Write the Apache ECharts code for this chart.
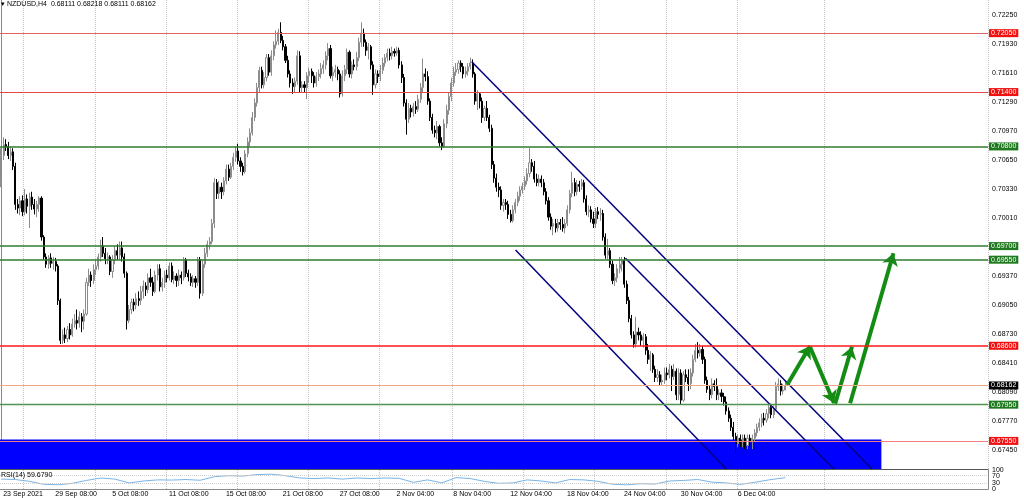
<!DOCTYPE html>
<html><head><meta charset="utf-8">
<script src="https://cdn.jsdelivr.net/npm/echarts@6/dist/echarts.min.js"></script>
<style>html,body{margin:0;padding:0;background:#fff}#c{width:1024px;height:498px}</style>
</head><body><div id="c"></div><script>
const symbolName = 'NZDUSD,H4';
const opens = [
.7040,.7070,.7082,.7080,.7070,.7074,.7058,.7016,.7012,.7020,
.7008,.7022,.7014,.7024,.7016,.7011,.7016,.7023,.6980,.6958,
.6950,.6957,.6951,.6953,.6948,.6910,.6866,.6872,.6868,.6878,
.6872,.6884,.6888,.6885,.6892,.6887,.6895,.6930,.6938,.6932,
.6944,.6948,.6958,.6970,.6962,.6956,.6958,.6942,.6955,.6965,
.6960,.6968,.6958,.6940,.6888,.6900,.6908,.6905,.6912,.6910,
.6920,.6926,.6922,.6935,.6930,.6920,.6938,.6945,.6925,.6930,
.6938,.6935,.6948,.6933,.6937,.6932,.6938,.6935,.6955,.6940,
.6936,.6930,.6934,.6930,.6955,.6918,.6950,.6962,.6972,.6975,
.6995,.7040,.7028,.7035,.7030,.7042,.7055,.7046,.7058,.7068,
.7075,.7064,.7058,.7052,.7072,.7085,.7095,.7112,.7128,.7145,
.7164,.7148,.7156,.7178,.7162,.7180,.7192,.7196,.7206,.7197,
.7190,.7175,.7160,.7150,.7146,.7152,.7180,.7145,.7148,.7145,
.7158,.7163,.7158,.7150,.7157,.7160,.7166,.7170,.7180,.7188,
.7158,.7162,.7165,.7160,.7138,.7158,.7165,.7184,.7160,.7170,
.7168,.7178,.7195,.7205,.7195,.7186,.7190,.7170,.7148,.7160,
.7157,.7164,.7172,.7178,.7183,.7180,.7185,.7183,.7186,.7170,
.7156,.7128,.7110,.7122,.7118,.7124,.7121,.7132,.7145,.7160,
.7157,.7130,.7112,.7098,.7095,.7102,.7084,.7080,.7105,.7120,
.7135,.7150,.7162,.7165,.7172,.7168,.7160,.7163,.7168,.7172,
.7160,.7130,.7138,.7130,.7112,.7122,.7112,.7100,.7060,.7045,
.7035,.7032,.7015,.7018,.7016,.7005,.6998,.7010,.7018,.7025,
.7032,.7036,.7042,.7050,.7062,.7058,.7044,.7040,.7044,.7040,
.7030,.7020,.7002,.6992,.6995,.6990,.6996,.6994,.6990,.6995,
.7010,.7028,.7040,.7030,.7038,.7036,.7040,.7022,.7008,.7010,
.7000,.6995,.7008,.7005,.7006,.6980,.6960,.6965,.6950,.6932,
.6935,.6945,.6950,.6954,.6928,.6910,.6890,.6872,.6862,.6875,
.6872,.6866,.6870,.6855,.6845,.6850,.6834,.6825,.6828,.6820,
.6822,.6830,.6828,.6834,.6826,.6832,.6806,.6830,.6800,.6828,
.6825,.6818,.6830,.6845,.6855,.6852,.6856,.6845,.6822,.6812,
.6806,.6818,.6815,.6806,.6808,.6804,.6798,.6788,.6780,.6770,
.6760,.6752,.6758,.6754,.6758,.6750,.6758,.6754,.6758,.6764,
.6770,.6775,.6780,.6778,.6785,.6792,.6784,.6790,.6815,.6818,
.6810,.68111];
const closes = [
.7070,.7082,.7080,.7070,.7074,.7058,.7016,.7012,.7020,.7008,
.7022,.7014,.7024,.7016,.7011,.7016,.7023,.6980,.6958,.6950,
.6957,.6951,.6953,.6948,.6910,.6866,.6872,.6868,.6878,.6872,
.6884,.6888,.6885,.6892,.6887,.6895,.6930,.6938,.6932,.6944,
.6948,.6958,.6970,.6962,.6956,.6958,.6942,.6955,.6965,.6960,
.6968,.6958,.6940,.6888,.6900,.6908,.6905,.6912,.6910,.6920,
.6926,.6922,.6935,.6930,.6920,.6938,.6945,.6925,.6930,.6938,
.6935,.6948,.6933,.6937,.6932,.6938,.6935,.6955,.6940,.6936,
.6930,.6934,.6930,.6955,.6918,.6950,.6962,.6972,.6975,.6995,
.7040,.7028,.7035,.7030,.7042,.7055,.7046,.7058,.7068,.7075,
.7064,.7058,.7052,.7072,.7085,.7095,.7112,.7128,.7145,.7164,
.7148,.7156,.7178,.7162,.7180,.7192,.7196,.7206,.7197,.7190,
.7175,.7160,.7150,.7146,.7152,.7180,.7145,.7148,.7145,.7158,
.7163,.7158,.7150,.7157,.7160,.7166,.7170,.7180,.7188,.7158,
.7162,.7165,.7160,.7138,.7158,.7165,.7184,.7160,.7170,.7168,
.7178,.7195,.7205,.7195,.7186,.7190,.7170,.7148,.7160,.7157,
.7164,.7172,.7178,.7183,.7180,.7185,.7183,.7186,.7170,.7156,
.7128,.7110,.7122,.7118,.7124,.7121,.7132,.7145,.7160,.7157,
.7130,.7112,.7098,.7095,.7102,.7084,.7080,.7105,.7120,.7135,
.7150,.7162,.7165,.7172,.7168,.7160,.7163,.7168,.7172,.7160,
.7130,.7138,.7130,.7112,.7122,.7112,.7100,.7060,.7045,.7035,
.7032,.7015,.7018,.7016,.7005,.6998,.7010,.7018,.7025,.7032,
.7036,.7042,.7050,.7062,.7058,.7044,.7040,.7044,.7040,.7030,
.7020,.7002,.6992,.6995,.6990,.6996,.6994,.6990,.6995,.7010,
.7028,.7040,.7030,.7038,.7036,.7040,.7022,.7008,.7010,.7000,
.6995,.7008,.7005,.7006,.6980,.6960,.6965,.6950,.6932,.6935,
.6945,.6950,.6954,.6928,.6910,.6890,.6872,.6862,.6875,.6872,
.6866,.6870,.6855,.6845,.6850,.6834,.6825,.6828,.6820,.6822,
.6830,.6828,.6834,.6826,.6832,.6806,.6830,.6800,.6828,.6825,
.6818,.6830,.6845,.6855,.6852,.6856,.6845,.6822,.6812,.6806,
.6818,.6815,.6806,.6808,.6804,.6798,.6788,.6780,.6770,.6760,
.6752,.6758,.6754,.6758,.6750,.6758,.6754,.6758,.6764,.6770,
.6775,.6780,.6778,.6785,.6792,.6784,.6790,.6815,.6818,.6810,
.6811,.68162];
const highs = [
.7078,.7090,.7088,.7085,.7080,.7078,.7062,.7022,.7025,.7026,
.7033,.7027,.7029,.7030,.7022,.7020,.7025,.7025,.6982,.6962,
.6960,.6962,.6958,.6957,.6950,.6912,.6878,.6880,.6882,.6885,
.6890,.6895,.6900,.6898,.6896,.6900,.6935,.6945,.6942,.6950,
.6955,.6962,.6977,.6980,.6968,.6963,.6960,.6960,.6970,.6972,
.6975,.6975,.6962,.6942,.6905,.6912,.6912,.6918,.6920,.6926,
.6932,.6930,.6940,.6945,.6936,.6943,.6950,.6950,.6935,.6943,
.6944,.6952,.6952,.6942,.6940,.6944,.6942,.6958,.6957,.6944,
.6940,.6938,.6937,.6958,.6958,.6955,.6968,.6976,.6980,.7000,
.7045,.7044,.7042,.7040,.7046,.7060,.7060,.7062,.7073,.7080,
.7083,.7068,.7062,.7076,.7090,.7100,.7118,.7133,.7150,.7168,
.7168,.7162,.7182,.7182,.7186,.7196,.7208,.7210,.7217,.7202,
.7193,.7180,.7164,.7155,.7156,.7186,.7185,.7152,.7152,.7162,
.7167,.7166,.7162,.7162,.7165,.7172,.7175,.7185,.7194,.7192,
.7168,.7170,.7168,.7164,.7164,.7170,.7188,.7186,.7174,.7176,
.7184,.7200,.7217,.7210,.7198,.7194,.7192,.7174,.7165,.7164,
.7170,.7178,.7182,.7188,.7188,.7190,.7188,.7190,.7189,.7174,
.7160,.7132,.7128,.7126,.7128,.7130,.7137,.7150,.7177,.7166,
.7163,.7133,.7116,.7103,.7108,.7104,.7090,.7110,.7126,.7140,
.7156,.7168,.7172,.7175,.7175,.7172,.7168,.7172,.7178,.7176,
.7162,.7142,.7140,.7134,.7125,.7130,.7115,.7104,.7064,.7050,
.7040,.7036,.7022,.7022,.7020,.7010,.7015,.7022,.7030,.7036,
.7040,.7047,.7056,.7078,.7066,.7064,.7050,.7049,.7048,.7044,
.7034,.7024,.7006,.7000,.7000,.7000,.7000,.7002,.7000,.7015,
.7032,.7052,.7045,.7043,.7042,.7044,.7043,.7026,.7015,.7014,
.7008,.7012,.7013,.7012,.7010,.6984,.6978,.6968,.6954,.6940,
.6950,.6958,.6958,.6958,.6932,.6914,.6894,.6876,.6892,.6880,
.6876,.6874,.6873,.6862,.6854,.6852,.6838,.6834,.6832,.6828,
.6836,.6836,.6840,.6838,.6840,.6835,.6835,.6834,.6832,.6834,
.6834,.6835,.6850,.6862,.6864,.6862,.6860,.6848,.6826,.6816,
.6824,.6822,.6824,.6812,.6812,.6808,.6804,.6792,.6784,.6776,
.6764,.6762,.6762,.6762,.6762,.6762,.6762,.6762,.6768,.6774,
.6780,.6785,.6786,.6790,.6796,.6796,.6794,.6820,.6824,.6822,
.6818,.68218];
const lows = [
.7035,.7065,.7075,.7066,.7064,.7054,.7010,.7006,.7004,.7003,
.7004,.7006,.6990,.7010,.7005,.7002,.7008,.6976,.6955,.6946,
.6945,.6946,.6944,.6942,.6905,.6862,.6862,.6863,.6864,.6867,
.6870,.6880,.6878,.6880,.6875,.6878,.6893,.6926,.6925,.6928,
.6938,.6944,.6953,.6958,.6950,.6950,.6938,.6935,.6950,.6955,
.6955,.6953,.6935,.6878,.6885,.6895,.6898,.6900,.6904,.6905,
.6912,.6915,.6918,.6925,.6915,.6918,.6932,.6920,.6920,.6924,
.6930,.6932,.6930,.6928,.6925,.6926,.6928,.6932,.6936,.6931,
.6926,.6925,.6924,.6926,.6912,.6915,.6946,.6958,.6966,.6972,
.6990,.7022,.7022,.7022,.7026,.7038,.7042,.7044,.7054,.7063,
.7060,.7052,.7048,.7050,.7068,.7080,.7092,.7108,.7124,.7140,
.7144,.7144,.7152,.7158,.7158,.7175,.7188,.7192,.7194,.7186,
.7172,.7156,.7145,.7138,.7140,.7148,.7140,.7140,.7140,.7132,
.7150,.7150,.7145,.7146,.7152,.7155,.7160,.7165,.7175,.7155,
.7152,.7156,.7153,.7134,.7135,.7152,.7160,.7156,.7155,.7164,
.7164,.7174,.7190,.7190,.7180,.7176,.7165,.7137,.7144,.7150,
.7152,.7160,.7168,.7174,.7175,.7176,.7179,.7180,.7166,.7150,
.7124,.7093,.7106,.7112,.7113,.7116,.7118,.7128,.7140,.7152,
.7126,.7108,.7094,.7090,.7088,.7080,.7076,.7078,.7100,.7115,
.7130,.7146,.7158,.7160,.7162,.7155,.7156,.7158,.7165,.7156,
.7126,.7120,.7122,.7106,.7108,.7108,.7096,.7055,.7040,.7030,
.7024,.7010,.7008,.7010,.7000,.6996,.6996,.7006,.7014,.7020,
.7028,.7032,.7038,.7046,.7052,.7040,.7036,.7036,.7035,.7026,
.7016,.6998,.6988,.6982,.6985,.6986,.6988,.6986,.6984,.6992,
.7006,.7024,.7025,.7026,.7030,.7032,.7018,.7004,.7002,.6996,
.6990,.6990,.7000,.6998,.6976,.6956,.6955,.6946,.6928,.6926,
.6930,.6940,.6942,.6924,.6906,.6886,.6868,.6858,.6858,.6866,
.6860,.6858,.6850,.6840,.6832,.6830,.6820,.6820,.6816,.6816,
.6818,.6822,.6824,.6810,.6822,.6800,.6800,.6795,.6798,.6820,
.6810,.6812,.6826,.6842,.6846,.6848,.6840,.6818,.6808,.6800,
.6802,.6810,.6800,.6800,.6798,.6794,.6784,.6776,.6766,.6756,
.6742,.6748,.6748,.6748,.6746,.6746,.6748,.6746,.6754,.6760,
.6766,.6770,.6772,.6775,.6780,.6780,.6780,.6788,.6810,.6805,
.6806,.68111];
const futureSlots = 85;
const tickBars = [0,22,46,70,94,118,142,166,190,214,238,262,286,310];
const tickLabels = ['23 Sep 2021','29 Sep 08:00','5 Oct 08:00','11 Oct 08:00','15 Oct 08:00','21 Oct 08:00','27 Oct 08:00','2 Nov 04:00','8 Nov 04:00','12 Nov 04:00','18 Nov 04:00','24 Nov 04:00','30 Nov 04:00','6 Dec 04:00'];
const weekSeparators = [10,40,70,100,130,160,191,221,251,281,311,348];
const priceTicks = [0.7225,0.7193,0.7161,0.7129,0.7097,0.7065,0.7033,0.7001,0.6969,0.6937,0.6905,0.6873,0.6841,0.6809,0.6777,0.6745];
const priceMin = 0.67240, priceMax = 0.72416;
const redLevels = [0.7205, 0.7140, 0.6860, 0.6755];
const greenLevels = [0.7080, 0.6970, 0.6955, 0.6795];
const rsiLevels = [70, 30];
const rsiOuterTicks = [100, 0];
const channelLines = [[198.6,0.71735,367.5,0.6724],[263.5,0.69565,351.4,0.6724],[217.1,0.69657,306.0,0.6724]];
const arrowPaths = [[331.7,0.68167,341.4,0.68598],[341.4,0.68587,351.5,0.67968],[352.0,0.67960,359.1,0.68590],[358.3,0.67965,376.6,0.69621]];
const demandZone = [-0.5, 0.67565, 371.5, 0.6724];
const rsiBars = [0,6,12,18,24,30,36,42,48,54,60,66,72,78,84,90,96,102,108,114,120,126,132,138,144,150,156,162,168,174,180,186,192,198,204,210,216,222,228,234,240,246,252,258,264,270,276,282,288,294,300,306,312,318,324,330,331];
const rsiValues = [52,50,40,25,22,30,45,58,52,32,42,48,47,50,46,65,70,68,76,78,70,58,55,58,52,58,55,58,56,35,48,32,60,55,40,30,32,48,42,32,50,48,40,25,22,28,26,42,45,50,36,32,24,35,48,58,59.679];

const N = opens.length + futureSlots;
const categories = Array.from({length: N}, (_, i) => String(i));
const candles = opens.map((o, i) => [o, closes[i], lows[i], highs[i]]);
const rsiFull = new Array(N).fill(null);
rsiBars.forEach((b, k) => { rsiFull[b] = rsiValues[k]; });
const last = opens.length - 1;
const FONT = 'Liberation Sans';
const fmt5 = v => Number(v).toFixed(5);

const redStyles = [{c:'#e06262',w:1},{c:'#e04848',w:1},{c:'#ff1a1a',w:1.5},{c:'#f08080',w:1}];
const greenStyles = [{c:'#2f7d2f',w:1.6},{c:'#2f7d2f',w:1.6},{c:'#2f7d2f',w:1.6},{c:'#4f954f',w:1.3}];
const lvlLabel = (bg) => ({show:true, position:'end', distance:1, formatter: p => fmt5(p.value), color:'#fff', backgroundColor:bg, fontSize:7, lineHeight:8, padding:[0,2,0,2], fontFamily:FONT});
const levelData = [];
redLevels.forEach((v,i)=>levelData.push({yAxis:v, lineStyle:{color:redStyles[i].c, width:redStyles[i].w, type:'solid'}, label:lvlLabel('#f01010')}));
greenLevels.forEach((v,i)=>levelData.push({yAxis:v, lineStyle:{color:greenStyles[i].c, width:greenStyles[i].w, type:'solid'}, label:lvlLabel('#1f7a1f')}));
levelData.push({yAxis: closes[last], lineStyle:{color:'#f0a888', width:1, type:'solid'}, label:lvlLabel('#000000')});

const gridLine = {show:true, interval:(idx)=>weekSeparators.indexOf(idx)>=0, lineStyle:{color:'#c4c4c4', type:'dotted', width:1}};
const rsiAxisLabel = (vals) => ({customValues:vals, showMinLabel:true, showMaxLabel:true, hideOverlap:false, fontSize:7, color:'#000', margin:4, fontFamily:FONT});

const chart = echarts.init(document.getElementById('c'), null, {renderer:'canvas'});
chart.setOption({
  animation:false,
  backgroundColor:'#ffffff',
  textStyle:{fontFamily:FONT},
  title:[
    {text:'\u25BE ' + symbolName + '  ' + [opens[last],highs[last],lows[last],closes[last]].map(fmt5).join(' '), left:1, top:1, padding:0, textStyle:{fontSize:7, fontWeight:'normal', color:'#000', fontFamily:FONT}},
    {text:'RSI(14) ' + rsiValues[rsiValues.length-1].toFixed(4), left:1, top:472, padding:0, textStyle:{fontSize:7, fontWeight:'normal', color:'#000', fontFamily:FONT}}
  ],
  grid:[
    {left:0, right:36, top:0, height:469},
    {left:0, right:36, top:470, height:19}
  ],
  xAxis:[
    {type:'category', gridIndex:0, data:categories, boundaryGap:true, axisLine:{show:true, lineStyle:{color:'#555', width:1}}, axisTick:{show:false}, axisLabel:{show:false}, splitLine:gridLine},
    {type:'category', gridIndex:1, data:categories, boundaryGap:true, axisLine:{show:true, lineStyle:{color:'#8a8a8a', width:1}}, axisTick:{show:false},
      axisLabel:{show:true, interval:(idx)=>tickBars.indexOf(idx)>=0, formatter:(v, idx)=>{const k=tickBars.indexOf(idx); return k>=0?tickLabels[k]:'';}, align:'left', padding:[0,0,0,2], fontSize:7, color:'#000', margin:2, fontFamily:FONT},
      splitLine:gridLine},
    {type:'value', gridIndex:0, min:-0.5, max:N-0.5, show:false}
  ],
  yAxis:[
    {type:'value', gridIndex:0, position:'right', min:priceMin, max:priceMax, axisLine:{show:true, lineStyle:{color:'#8a8a8a'}}, axisTick:{show:false}, splitLine:{show:false},
      axisLabel:{customValues:priceTicks, formatter:fmt5, fontSize:7, color:'#000', margin:4, fontFamily:FONT, hideOverlap:false}},
    {type:'value', gridIndex:1, position:'right', min:0, max:100, axisLine:{show:true, lineStyle:{color:'#8a8a8a'}}, axisTick:{show:false}, splitLine:{show:false},
      axisLabel:rsiAxisLabel(rsiOuterTicks)},
    {type:'value', gridIndex:1, position:'right', min:0, max:100, axisLine:{show:false}, axisTick:{show:false}, splitLine:{show:false},
      axisLabel:rsiAxisLabel(rsiLevels)}
  ],
  series:[
    {type:'custom', name:'zone', xAxisIndex:2, yAxisIndex:0, z:1, silent:true, data:[demandZone], encode:{x:[0,2], y:[1,3]},
      renderItem:(params, api)=>{const p0=api.coord([api.value(0),api.value(1)]); const p1=api.coord([api.value(2),api.value(3)]);
        return {type:'rect', shape:{x:p0[0], y:p0[1], width:p1[0]-p0[0], height:p1[1]-p0[1]}, style:{fill:'#0000ff'}};}},
    {type:'candlestick', name:symbolName, xAxisIndex:0, yAxisIndex:0, z:2, barWidth:1.6, data:candles, silent:true,
      itemStyle:{color:'#ffffff', color0:'#000000', borderColor:'#8c8c8c', borderColor0:'#000000', borderWidth:1},
      markLine:{silent:true, symbol:'none', precision:5, animation:false, data:levelData}},
    {type:'lines', name:'channel', coordinateSystem:'cartesian2d', xAxisIndex:2, yAxisIndex:0, z:3, silent:true,
      data:channelLines.map(c=>({coords:[[c[0],c[1]],[c[2],c[3]]]})), lineStyle:{color:'#00007f', width:1.5, opacity:1}},
    {type:'lines', name:'arrows', coordinateSystem:'cartesian2d', xAxisIndex:2, yAxisIndex:0, z:4, silent:true,
      symbol:['none','arrow'], symbolSize:12,
      data:arrowPaths.map(c=>({coords:[[c[0],c[1]],[c[2],c[3]]]})), lineStyle:{color:'#138c13', width:4, opacity:1}},
    {type:'line', name:'RSI(14)', xAxisIndex:1, yAxisIndex:1, data:rsiFull, connectNulls:true, showSymbol:false, silent:true,
      lineStyle:{color:'#7ab4e6', width:1},
      markLine:{silent:true, symbol:'none', precision:0, label:{show:false}, lineStyle:{color:'#d0d0d0', type:'dotted', width:1}, data:rsiLevels.map(v=>({yAxis:v}))}}
  ]
});
</script></body></html>
